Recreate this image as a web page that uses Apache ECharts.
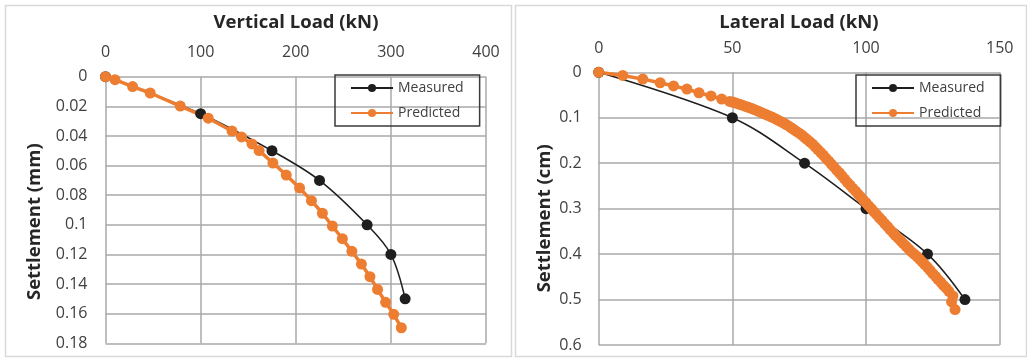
<!DOCTYPE html>
<html>
<head>
<meta charset="utf-8">
<script src="https://cdn.jsdelivr.net/npm/echarts@6/dist/echarts.min.js"></script>
<style>
  html, body { margin: 0; padding: 0; background: #fff; }
  #chart { width: 1027px; height: 359px; }
</style>
</head>
<body>
<div id="chart"></div>
<script>
// --- left panel: vertical load ---
const vertMeasuredLoad = [0, 100, 175, 225, 275, 300, 315];
const vertMeasuredSettle = [0, 0.025, 0.05, 0.07, 0.1, 0.12, 0.15];
const vertPredictedLoad = [0, 10, 28.5, 47, 78.6, 108, 133, 143, 154, 161.5, 176, 190, 204, 216.5, 228, 238.5, 249, 259, 269, 278, 286, 294.5, 303, 311];
const vertPredictedSettle = [0, 0.002, 0.0067, 0.011, 0.0198, 0.028, 0.0367, 0.0407, 0.0454, 0.0499, 0.0583, 0.0664, 0.0751, 0.0837, 0.0922, 0.1008, 0.1094, 0.1179, 0.1265, 0.135, 0.1436, 0.1523, 0.1604, 0.1695];

// --- right panel: lateral load ---
const latMeasuredLoad = [0, 50, 77, 100, 123, 137];
const latMeasuredSettle = [0, 0.1, 0.2, 0.3, 0.4, 0.5];
const latPredictedLoad = [
    0, 9, 16.5, 23, 28, 33, 37.5, 42, 46, 49,
    50, 51, 52, 53, 54, 55, 56, 57, 58, 59, 60, 61, 62, 63, 64, 65, 66, 67, 68, 69,
    70, 71, 72, 73, 74, 75, 76, 77, 78, 79, 80, 81, 82, 83, 84, 85, 86, 87, 88, 89,
    90, 91, 92, 93, 94, 95, 96, 97, 98, 99, 100, 101, 102, 103, 104, 105, 106, 107, 108, 109,
    110, 111, 112, 113, 114, 115, 116, 117, 118, 119, 120, 121, 122, 123, 124, 125, 126, 127, 128, 129,
    130, 131, 132.5, 132, 133.3
];
const latPredictedSettle = [
    0, 0.007, 0.015, 0.023, 0.03, 0.037, 0.045, 0.052, 0.059, 0.064,
    0.0655, 0.067, 0.069, 0.071, 0.073, 0.075, 0.077, 0.079, 0.0815, 0.084, 0.0865, 0.089, 0.0915, 0.094, 0.0965, 0.099, 0.102, 0.105, 0.108, 0.111,
    0.1145, 0.118, 0.122, 0.126, 0.13, 0.134, 0.138, 0.143, 0.148, 0.153, 0.158, 0.164, 0.17, 0.176, 0.182, 0.189, 0.195, 0.202, 0.208, 0.215,
    0.221, 0.228, 0.235, 0.242, 0.248, 0.255, 0.261, 0.268, 0.274, 0.281, 0.287, 0.294, 0.3, 0.307, 0.313, 0.32, 0.326, 0.333, 0.339, 0.346,
    0.352, 0.359, 0.365, 0.371, 0.377, 0.383, 0.389, 0.395, 0.4, 0.405, 0.411, 0.417, 0.423, 0.429, 0.436, 0.443, 0.449, 0.456, 0.462, 0.469,
    0.475, 0.482, 0.492, 0.505, 0.522
];

const seriesNames = ['Measured', 'Predicted'];
const axisTitles = ['Vertical Load (kN)', 'Settlement (mm)', 'Lateral Load (kN)', 'Settlement (cm)'];

const FONT = '"Open Sans", "Liberation Sans", sans-serif';
const BLACK = '#1e1e1e';
const ORANGE = '#ed7d31';
const GRIDLINE = '#a9a9a9';
const LABEL = '#404040';

const pairs = (xs, ys) => xs.map((x, i) => [x, ys[i]]);

const chart = echarts.init(document.getElementById('chart'));

function xAxisFor(gridIndex, max, interval) {
    return {
        type: 'value', gridIndex, position: 'top', min: 0, max, interval,
        axisLine: { show: false }, axisTick: { show: false },
        axisLabel: { color: LABEL, fontSize: 16, fontFamily: FONT, margin: 16 },
        splitLine: { show: true, lineStyle: { color: GRIDLINE, width: 1.5 } }
    };
}
function yAxisFor(gridIndex, max, interval, margin) {
    return {
        type: 'value', gridIndex, inverse: true, min: 0, max, interval,
        axisLine: { show: false }, axisTick: { show: false },
        axisLabel: { color: LABEL, fontSize: 16, fontFamily: FONT, margin },
        splitLine: { show: true, lineStyle: { color: GRIDLINE, width: 1.5 } }
    };
}
function measured(idx, data) {
    return {
        name: seriesNames[0], type: 'line', xAxisIndex: idx, yAxisIndex: idx,
        data, smooth: 0.35, symbol: 'circle', symbolSize: 11, showAllSymbol: true,
        lineStyle: { color: BLACK, width: 1.5 }, itemStyle: { color: BLACK },
        emphasis: { disabled: true }, animation: false
    };
}
function predicted(idx, data) {
    return {
        name: seriesNames[1], type: 'line', xAxisIndex: idx, yAxisIndex: idx,
        data, symbol: 'circle', symbolSize: 11, showAllSymbol: true,
        lineStyle: { color: ORANGE, width: 3.5 }, itemStyle: { color: ORANGE },
        emphasis: { disabled: true }, animation: false
    };
}
function legendAt(left, top) {
    return {
        left, top, orient: 'vertical', data: seriesNames, selectedMode: false,
        borderColor: '#3a3a3a', borderWidth: 1.5, padding: [5, 16, 5, 15],
        itemWidth: 42, itemHeight: 10, itemGap: 9,
        textStyle: { fontSize: 14, color: LABEL, fontFamily: FONT, lineHeight: 16 }
    };
}
function label(text, x, y, rotate) {
    return {
        type: 'text', x, y, rotation: rotate ? Math.PI / 2 : 0,
        style: {
            text, fill: '#262626', font: 'bold 18.5px ' + FONT,
            textAlign: 'center', textVerticalAlign: 'middle', align: 'center', verticalAlign: 'middle'
        }
    };
}

chart.setOption({
    backgroundColor: '#fff',
    animation: false,
    grid: [
        { left: 105.5, top: 76.7, width: 380.5, height: 266.6 },
        { left: 598.7, top: 72.3, width: 401, height: 272.7 }
    ],
    xAxis: [xAxisFor(0, 400, 100), xAxisFor(1, 150, 50)],
    yAxis: [yAxisFor(0, 0.18, 0.02, 18), yAxisFor(1, 0.6, 0.1, 17)],
    legend: [legendAt(335, 75), legendAt(856, 75)],
    graphic: [
        { type: 'rect', shape: { x: 5.5, y: 5.5, width: 506, height: 351 }, style: { fill: 'none', stroke: '#d9d9d9', lineWidth: 1.5 } },
        { type: 'rect', shape: { x: 515.5, y: 5.5, width: 511, height: 351 }, style: { fill: 'none', stroke: '#d9d9d9', lineWidth: 1.5 } },
        label(axisTitles[0], 296, 23, false),
        label(axisTitles[1], 35, 221.7, true),
        label(axisTitles[2], 799, 23, false),
        label(axisTitles[3], 544.3, 218.3, true)
    ],
    series: [
        measured(0, pairs(vertMeasuredLoad, vertMeasuredSettle)),
        predicted(0, pairs(vertPredictedLoad, vertPredictedSettle)),
        measured(1, pairs(latMeasuredLoad, latMeasuredSettle)),
        predicted(1, pairs(latPredictedLoad, latPredictedSettle))
    ]
});
</script>
</body>
</html>
